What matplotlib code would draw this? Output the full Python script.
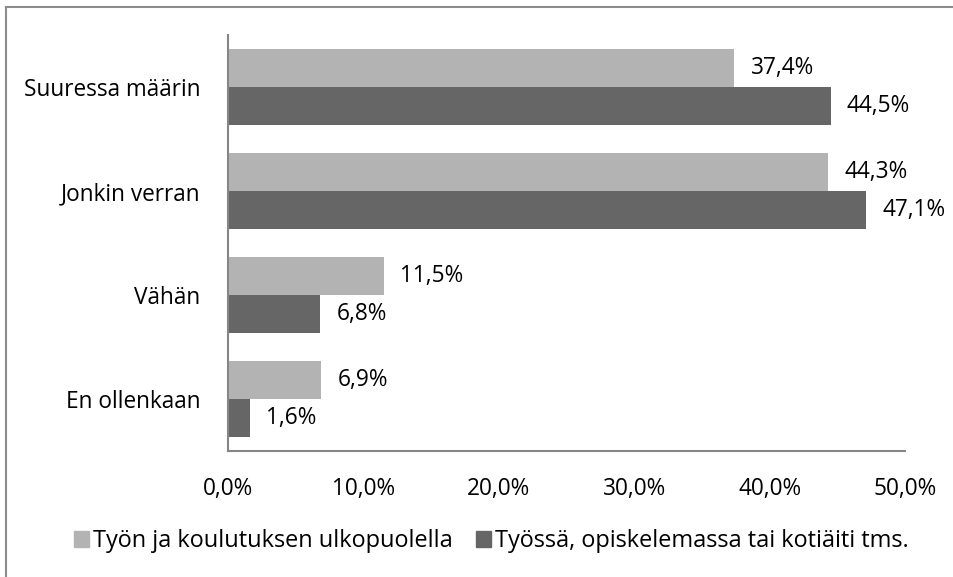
import matplotlib
matplotlib.use("Agg")
import numpy as np
import matplotlib.pyplot as plt
from matplotlib.lines import Line2D
from matplotlib.patches import Patch

plt.rcParams["font.family"] = ["Open Sans", "DejaVu Sans"]

categories = ["Suuressa määrin", "Jonkin verran", "Vähän", "En ollenkaan"]
outside = [37.4, 44.3, 11.5, 6.9]     # Työn ja koulutuksen ulkopuolella
working = [44.5, 47.1, 6.8, 1.6]      # Työssä, opiskelemassa tai kotiäiti tms.
series_names = ["Työn ja koulutuksen ulkopuolella",
                "Työssä, opiskelemassa tai kotiäiti tms."]
xticks = [0, 10, 20, 30, 40, 50]

light = "#b3b3b3"
dark = "#666666"
axis_col = "#868686"
fs = 16.3

fig = plt.figure(figsize=(9.54, 5.77), dpi=100)
ax = fig.add_axes([0.239, 0.2184, 0.7097, 0.7210])

h = 0.365
y = np.arange(len(categories))[::-1]
ax.barh(y + h / 2, outside, height=h, color=light)
ax.barh(y - h / 2, working, height=h, color=dark)

for yi, v in zip(y + h / 2, outside):
    ax.text(v + 1.2, yi, ("%.1f%%" % v).replace(".", ","), va="center", ha="left", fontsize=fs)
for yi, v in zip(y - h / 2, working):
    ax.text(v + 1.2, yi, ("%.1f%%" % v).replace(".", ","), va="center", ha="left", fontsize=fs)

ax.set_xlim(0, 50)
ax.set_ylim(-0.5, len(categories) - 0.5)
ax.set_xticks(xticks)
ax.set_xticklabels([("%.1f%%" % t).replace(".", ",") for t in xticks], fontsize=fs)
ax.set_yticks(y)
ax.set_yticklabels(categories, fontsize=fs)
ax.tick_params(axis="both", length=0)
ax.tick_params(axis="x", pad=19)
ax.tick_params(axis="y", pad=20)

for s in ["top", "right"]:
    ax.spines[s].set_visible(False)
for s in ["left", "bottom"]:
    ax.spines[s].set_color(axis_col)
    ax.spines[s].set_linewidth(1.5)

handles = [Patch(color=light), Patch(color=dark)]
fig.legend(handles, series_names, ncol=2, loc="center",
           bbox_to_anchor=(0.515, 1 - 541 / 577), frameon=False, fontsize=16.9,
           handlelength=0.64, handleheight=0.64, handletextpad=0.15,
           columnspacing=1.0)

# outer frame (only left and top visible)
fig.add_artist(Line2D([6.5 / 954, 6.5 / 954], [0, 1 - 6.5 / 577], transform=fig.transFigure,
                      color="#8c8c8c", linewidth=1.5))
fig.add_artist(Line2D([6.5 / 954, 1], [1 - 6.5 / 577, 1 - 6.5 / 577], transform=fig.transFigure,
                      color="#8c8c8c", linewidth=1.5))

fig.savefig("out.png", dpi=100)
